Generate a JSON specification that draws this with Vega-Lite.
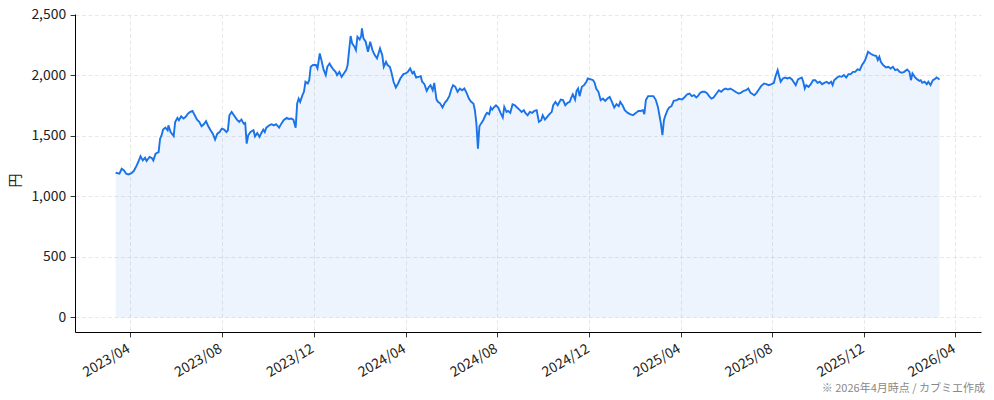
{
  "$schema": "https://vega.github.io/schema/vega-lite/v6.json",
  "width": 906,
  "height": 318,
  "autosize": {"type": "none"},
  "padding": {"left": 75, "top": 14, "right": 13, "bottom": 68},
  "title": {
    "text": "※ 2026年4月時点 / カブミエ作成",
    "orient": "bottom",
    "anchor": "end",
    "frame": "group",
    "fontSize": 11,
    "fontWeight": "normal",
    "color": "#888888",
    "offset": 4,
    "dx": 4
  },
  "data": {
    "values": [
      {"date":"2023-03-13","price":1196},{"date":"2023-03-18","price":1188},{"date":"2023-03-21","price":1229},{"date":"2023-03-24","price":1215},{"date":"2023-03-27","price":1188},{"date":"2023-03-30","price":1182},{"date":"2023-04-03","price":1193},{"date":"2023-04-06","price":1210},{"date":"2023-04-10","price":1257},{"date":"2023-04-12","price":1285},{"date":"2023-04-15","price":1332},{"date":"2023-04-18","price":1298},{"date":"2023-04-21","price":1320},{"date":"2023-04-23","price":1293},{"date":"2023-04-27","price":1326},{"date":"2023-04-30","price":1318},{"date":"2023-05-02","price":1298},{"date":"2023-05-05","price":1354},{"date":"2023-05-09","price":1367},{"date":"2023-05-11","price":1478},{"date":"2023-05-13","price":1506},{"date":"2023-05-15","price":1553},{"date":"2023-05-18","price":1569},{"date":"2023-05-21","price":1547},{"date":"2023-05-22","price":1588},{"date":"2023-05-25","price":1533},{"date":"2023-05-29","price":1500},{"date":"2023-05-31","price":1616},{"date":"2023-06-03","price":1649},{"date":"2023-06-05","price":1630},{"date":"2023-06-08","price":1663},{"date":"2023-06-11","price":1644},{"date":"2023-06-14","price":1658},{"date":"2023-06-17","price":1685},{"date":"2023-06-20","price":1699},{"date":"2023-06-23","price":1707},{"date":"2023-06-26","price":1671},{"date":"2023-06-29","price":1635},{"date":"2023-07-02","price":1616},{"date":"2023-07-05","price":1580},{"date":"2023-07-08","price":1597},{"date":"2023-07-11","price":1622},{"date":"2023-07-14","price":1580},{"date":"2023-07-17","price":1547},{"date":"2023-07-20","price":1519},{"date":"2023-07-23","price":1470},{"date":"2023-07-26","price":1519},{"date":"2023-07-29","price":1533},{"date":"2023-08-01","price":1561},{"date":"2023-08-04","price":1553},{"date":"2023-08-07","price":1533},{"date":"2023-08-09","price":1547},{"date":"2023-08-11","price":1671},{"date":"2023-08-14","price":1699},{"date":"2023-08-17","price":1671},{"date":"2023-08-21","price":1635},{"date":"2023-08-24","price":1616},{"date":"2023-08-27","price":1635},{"date":"2023-08-30","price":1602},{"date":"2023-09-01","price":1608},{"date":"2023-09-03","price":1437},{"date":"2023-09-05","price":1506},{"date":"2023-09-08","price":1533},{"date":"2023-09-12","price":1547},
      {"date":"2023-09-14","price":1497},{"date":"2023-09-17","price":1525},{"date":"2023-09-20","price":1492},{"date":"2023-09-22","price":1519},{"date":"2023-09-25","price":1553},{"date":"2023-09-27","price":1533},{"date":"2023-09-29","price":1569},{"date":"2023-10-03","price":1588},{"date":"2023-10-06","price":1597},{"date":"2023-10-09","price":1588},{"date":"2023-10-12","price":1597},{"date":"2023-10-16","price":1569},{"date":"2023-10-19","price":1602},{"date":"2023-10-22","price":1630},{"date":"2023-10-26","price":1649},{"date":"2023-10-29","price":1641},{"date":"2023-11-01","price":1644},{"date":"2023-11-04","price":1635},{"date":"2023-11-07","price":1569},{"date":"2023-11-09","price":1768},{"date":"2023-11-11","price":1809},{"date":"2023-11-13","price":1782},{"date":"2023-11-16","price":1837},{"date":"2023-11-18","price":1865},{"date":"2023-11-20","price":1948},{"date":"2023-11-23","price":1934},{"date":"2023-11-25","price":1961},{"date":"2023-11-27","price":2072},{"date":"2023-11-30","price":2086},{"date":"2023-12-04","price":2086},{"date":"2023-12-06","price":2058},{"date":"2023-12-09","price":2182},{"date":"2023-12-11","price":2133},{"date":"2023-12-14","price":2050},{"date":"2023-12-17","price":2003},{"date":"2023-12-19","price":2072},{"date":"2023-12-22","price":2099},{"date":"2023-12-24","price":2077},{"date":"2023-12-27","price":2050},{"date":"2023-12-30","price":2030},{"date":"2024-01-01","price":2003},{"date":"2024-01-04","price":2030},{"date":"2024-01-07","price":1989},{"date":"2024-01-10","price":2017},{"date":"2024-01-13","price":2044},{"date":"2024-01-15","price":2086},{"date":"2024-01-17","price":2210},{"date":"2024-01-19","price":2326},{"date":"2024-01-21","price":2265},{"date":"2024-01-24","price":2238},{"date":"2024-01-26","price":2210},{"date":"2024-01-28","price":2320},{"date":"2024-01-31","price":2298},{"date":"2024-02-02","price":2326},{"date":"2024-02-03","price":2389},{"date":"2024-02-05","price":2307},{"date":"2024-02-08","price":2279},{"date":"2024-02-11","price":2196},{"date":"2024-02-14","price":2279},{"date":"2024-02-17","price":2210},{"date":"2024-02-20","price":2168},{"date":"2024-02-23","price":2141},{"date":"2024-02-27","price":2224},{"date":"2024-03-01","price":2168},{"date":"2024-03-03","price":2072},{"date":"2024-03-06","price":2113},{"date":"2024-03-08","price":2086},{"date":"2024-03-11","price":2072},{"date":"2024-03-13","price":2030},{"date":"2024-03-16","price":1948},
      {"date":"2024-03-19","price":1901},{"date":"2024-03-22","price":1934},{"date":"2024-03-25","price":1975},{"date":"2024-03-29","price":2011},{"date":"2024-04-01","price":2017},{"date":"2024-04-04","price":2030},{"date":"2024-04-07","price":2058},{"date":"2024-04-10","price":2017},{"date":"2024-04-12","price":2030},{"date":"2024-04-15","price":1983},{"date":"2024-04-18","price":1989},{"date":"2024-04-21","price":1994},{"date":"2024-04-23","price":1948},{"date":"2024-04-26","price":1928},{"date":"2024-04-29","price":1873},{"date":"2024-05-02","price":1906},{"date":"2024-05-04","price":1920},{"date":"2024-05-07","price":1878},{"date":"2024-05-09","price":1939},{"date":"2024-05-12","price":1801},{"date":"2024-05-14","price":1782},{"date":"2024-05-17","price":1768},{"date":"2024-05-20","price":1735},{"date":"2024-05-23","price":1774},{"date":"2024-05-26","price":1796},{"date":"2024-05-29","price":1829},{"date":"2024-06-01","price":1892},{"date":"2024-06-03","price":1920},{"date":"2024-06-06","price":1906},{"date":"2024-06-09","price":1865},{"date":"2024-06-12","price":1892},{"date":"2024-06-15","price":1878},{"date":"2024-06-18","price":1892},{"date":"2024-06-21","price":1856},{"date":"2024-06-24","price":1809},{"date":"2024-06-27","price":1782},{"date":"2024-06-30","price":1768},{"date":"2024-07-02","price":1713},{"date":"2024-07-04","price":1602},{"date":"2024-07-06","price":1395},{"date":"2024-07-08","price":1580},{"date":"2024-07-10","price":1602},{"date":"2024-07-13","price":1630},{"date":"2024-07-16","price":1671},{"date":"2024-07-18","price":1691},{"date":"2024-07-21","price":1680},{"date":"2024-07-23","price":1735},{"date":"2024-07-25","price":1718},{"date":"2024-07-27","price":1735},{"date":"2024-07-30","price":1754},{"date":"2024-08-02","price":1735},{"date":"2024-08-05","price":1691},{"date":"2024-08-08","price":1652},{"date":"2024-08-10","price":1740},{"date":"2024-08-13","price":1699},{"date":"2024-08-15","price":1707},{"date":"2024-08-18","price":1691},{"date":"2024-08-21","price":1762},{"date":"2024-08-24","price":1754},{"date":"2024-08-27","price":1735},{"date":"2024-08-30","price":1718},{"date":"2024-09-02","price":1699},{"date":"2024-09-05","price":1713},{"date":"2024-09-07","price":1691},{"date":"2024-09-10","price":1671},{"date":"2024-09-13","price":1699},{"date":"2024-09-16","price":1691},{"date":"2024-09-19","price":1707},
      {"date":"2024-09-22","price":1713},{"date":"2024-09-25","price":1616},{"date":"2024-09-28","price":1630},{"date":"2024-09-30","price":1671},{"date":"2024-10-03","price":1635},{"date":"2024-10-06","price":1658},{"date":"2024-10-09","price":1680},{"date":"2024-10-12","price":1699},{"date":"2024-10-14","price":1754},{"date":"2024-10-17","price":1782},{"date":"2024-10-20","price":1754},{"date":"2024-10-24","price":1801},{"date":"2024-10-27","price":1796},{"date":"2024-10-30","price":1754},{"date":"2024-11-02","price":1774},{"date":"2024-11-05","price":1782},{"date":"2024-11-07","price":1818},{"date":"2024-11-09","price":1845},{"date":"2024-11-12","price":1801},{"date":"2024-11-14","price":1873},{"date":"2024-11-16","price":1892},{"date":"2024-11-18","price":1829},{"date":"2024-11-21","price":1906},{"date":"2024-11-24","price":1920},{"date":"2024-11-27","price":1948},{"date":"2024-11-29","price":1975},{"date":"2024-12-03","price":1967},{"date":"2024-12-06","price":1961},{"date":"2024-12-08","price":1939},{"date":"2024-12-10","price":1892},{"date":"2024-12-13","price":1865},{"date":"2024-12-16","price":1796},{"date":"2024-12-19","price":1809},{"date":"2024-12-22","price":1790},{"date":"2024-12-25","price":1809},{"date":"2024-12-28","price":1823},{"date":"2024-12-31","price":1782},{"date":"2025-01-03","price":1735},{"date":"2025-01-06","price":1762},{"date":"2025-01-09","price":1746},{"date":"2025-01-11","price":1782},{"date":"2025-01-14","price":1754},{"date":"2025-01-17","price":1713},{"date":"2025-01-21","price":1691},{"date":"2025-01-24","price":1680},{"date":"2025-01-28","price":1671},{"date":"2025-02-01","price":1691},{"date":"2025-02-04","price":1707},{"date":"2025-02-07","price":1707},{"date":"2025-02-10","price":1713},{"date":"2025-02-12","price":1680},{"date":"2025-02-14","price":1796},{"date":"2025-02-17","price":1829},{"date":"2025-02-20","price":1829},{"date":"2025-02-24","price":1829},{"date":"2025-02-27","price":1801},{"date":"2025-03-02","price":1740},{"date":"2025-03-04","price":1671},{"date":"2025-03-06","price":1602},{"date":"2025-03-08","price":1506},{"date":"2025-03-10","price":1630},{"date":"2025-03-12","price":1671},{"date":"2025-03-15","price":1718},{"date":"2025-03-17","price":1735},{"date":"2025-03-20","price":1746},{"date":"2025-03-23","price":1790},
      {"date":"2025-03-27","price":1796},{"date":"2025-03-30","price":1807},{"date":"2025-04-03","price":1801},{"date":"2025-04-06","price":1818},{"date":"2025-04-10","price":1845},{"date":"2025-04-13","price":1851},{"date":"2025-04-16","price":1829},{"date":"2025-04-19","price":1837},{"date":"2025-04-22","price":1818},{"date":"2025-04-24","price":1829},{"date":"2025-04-27","price":1856},{"date":"2025-04-30","price":1865},{"date":"2025-05-03","price":1865},{"date":"2025-05-06","price":1856},{"date":"2025-05-09","price":1829},{"date":"2025-05-12","price":1809},{"date":"2025-05-15","price":1818},{"date":"2025-05-18","price":1845},{"date":"2025-05-22","price":1878},{"date":"2025-05-25","price":1865},{"date":"2025-05-28","price":1884},{"date":"2025-05-31","price":1892},{"date":"2025-06-03","price":1884},{"date":"2025-06-06","price":1892},{"date":"2025-06-10","price":1878},{"date":"2025-06-13","price":1865},{"date":"2025-06-17","price":1851},{"date":"2025-06-20","price":1856},{"date":"2025-06-24","price":1873},{"date":"2025-06-27","price":1878},{"date":"2025-06-30","price":1892},{"date":"2025-07-03","price":1856},{"date":"2025-07-06","price":1845},{"date":"2025-07-08","price":1837},{"date":"2025-07-11","price":1856},{"date":"2025-07-14","price":1884},{"date":"2025-07-17","price":1912},{"date":"2025-07-21","price":1934},{"date":"2025-07-24","price":1928},{"date":"2025-07-27","price":1920},{"date":"2025-07-31","price":1928},{"date":"2025-08-03","price":1939},{"date":"2025-08-05","price":1989},{"date":"2025-08-08","price":2044},{"date":"2025-08-10","price":1994},{"date":"2025-08-12","price":1948},{"date":"2025-08-15","price":1975},{"date":"2025-08-18","price":1983},{"date":"2025-08-21","price":1975},{"date":"2025-08-24","price":1983},{"date":"2025-08-27","price":1967},{"date":"2025-08-29","price":1948},{"date":"2025-09-01","price":1920},{"date":"2025-09-04","price":1967},{"date":"2025-09-06","price":1975},{"date":"2025-09-09","price":1983},{"date":"2025-09-11","price":1948},{"date":"2025-09-13","price":1892},{"date":"2025-09-15","price":1920},{"date":"2025-09-18","price":1906},{"date":"2025-09-21","price":1928},{"date":"2025-09-24","price":1961},
      {"date":"2025-09-27","price":1961},{"date":"2025-09-30","price":1939},{"date":"2025-10-03","price":1948},{"date":"2025-10-06","price":1928},{"date":"2025-10-09","price":1939},{"date":"2025-10-12","price":1948},{"date":"2025-10-15","price":1934},{"date":"2025-10-18","price":1948},{"date":"2025-10-20","price":1920},{"date":"2025-10-22","price":1961},{"date":"2025-10-26","price":1983},{"date":"2025-10-29","price":1994},{"date":"2025-11-01","price":1989},{"date":"2025-11-04","price":2003},{"date":"2025-11-07","price":1983},{"date":"2025-11-10","price":2011},{"date":"2025-11-13","price":2011},{"date":"2025-11-16","price":2030},{"date":"2025-11-19","price":2030},{"date":"2025-11-22","price":2050},{"date":"2025-11-25","price":2044},{"date":"2025-11-28","price":2086},{"date":"2025-12-01","price":2113},{"date":"2025-12-03","price":2141},{"date":"2025-12-06","price":2196},{"date":"2025-12-10","price":2177},{"date":"2025-12-13","price":2168},{"date":"2025-12-17","price":2160},{"date":"2025-12-19","price":2127},{"date":"2025-12-21","price":2155},{"date":"2025-12-23","price":2113},{"date":"2025-12-26","price":2086},{"date":"2025-12-30","price":2066},{"date":"2026-01-02","price":2072},{"date":"2026-01-05","price":2058},{"date":"2026-01-08","price":2072},{"date":"2026-01-11","price":2044},{"date":"2026-01-14","price":2050},{"date":"2026-01-17","price":2030},{"date":"2026-01-20","price":2022},{"date":"2026-01-23","price":2030},{"date":"2026-01-27","price":2050},{"date":"2026-01-30","price":2030},{"date":"2026-02-01","price":1961},{"date":"2026-02-03","price":2017},{"date":"2026-02-06","price":1989},{"date":"2026-02-08","price":1975},{"date":"2026-02-12","price":1956},{"date":"2026-02-14","price":1961},{"date":"2026-02-16","price":1939},{"date":"2026-02-19","price":1948},{"date":"2026-02-22","price":1928},{"date":"2026-02-24","price":1948},{"date":"2026-02-27","price":1920},{"date":"2026-03-02","price":1961},{"date":"2026-03-04","price":1967},{"date":"2026-03-07","price":1983},{"date":"2026-03-11","price":1967}
    ]
  },
  "encoding": {
    "x": {
      "field": "date",
      "type": "temporal",
      "scale": {
        "type": "utc",
        "domain": [
          {"year": 2023, "month": 1, "date": 18, "utc": true},
          {"year": 2026, "month": 5, "date": 5, "utc": true}
        ]
      },
      "axis": {
        "title": null,
        "format": "%Y/%m",
        "values": [
          {"year": 2023, "month": 4, "date": 1, "utc": true},
          {"year": 2023, "month": 8, "date": 1, "utc": true},
          {"year": 2023, "month": 12, "date": 1, "utc": true},
          {"year": 2024, "month": 4, "date": 1, "utc": true},
          {"year": 2024, "month": 8, "date": 1, "utc": true},
          {"year": 2024, "month": 12, "date": 1, "utc": true},
          {"year": 2025, "month": 4, "date": 1, "utc": true},
          {"year": 2025, "month": 8, "date": 1, "utc": true},
          {"year": 2025, "month": 12, "date": 1, "utc": true},
          {"year": 2026, "month": 4, "date": 1, "utc": true}
        ],
        "labelAngle": -30,
        "labelAlign": "right",
        "labelBaseline": "top",
        "labelOffset": -5,
        "labelOverlap": false,
        "labelFlush": false
      }
    },
    "y": {
      "field": "price",
      "type": "quantitative",
      "scale": {"domain": [-120, 2508], "nice": false, "zero": false},
      "axis": {
        "title": "円",
        "values": [0, 500, 1000, 1500, 2000, 2500],
        "format": ",d",
        "titleX": -60,
        "titleY": 166,
        "titleAlign": "center",
        "titleBaseline": "middle",
        "titleFontSize": 13.9,
        "titleFontWeight": "normal",
        "titleColor": "#222222",
        "labelFlush": false
      }
    }
  },
  "layer": [
    {
      "mark": {"type": "area", "color": "#1a73e8", "opacity": 0.08},
      "encoding": {"y2": {"datum": 0}}
    },
    {
      "mark": {"type": "line", "color": "#1a73e8", "strokeWidth": 1.9}
    }
  ],
  "config": {
    "font": "Noto Sans CJK JP",
    "view": {"stroke": null},
    "axis": {
      "domainColor": "#000000",
      "domainWidth": 1,
      "tickColor": "#000000",
      "tickSize": 4.9,
      "tickWidth": 0.8,
      "labelFontSize": 13.9,
      "labelColor": "#222222",
      "labelPadding": 4.5,
      "gridColor": "#e2e2e2",
      "gridDash": [4, 2.5],
      "gridWidth": 0.8
    }
  }
}
